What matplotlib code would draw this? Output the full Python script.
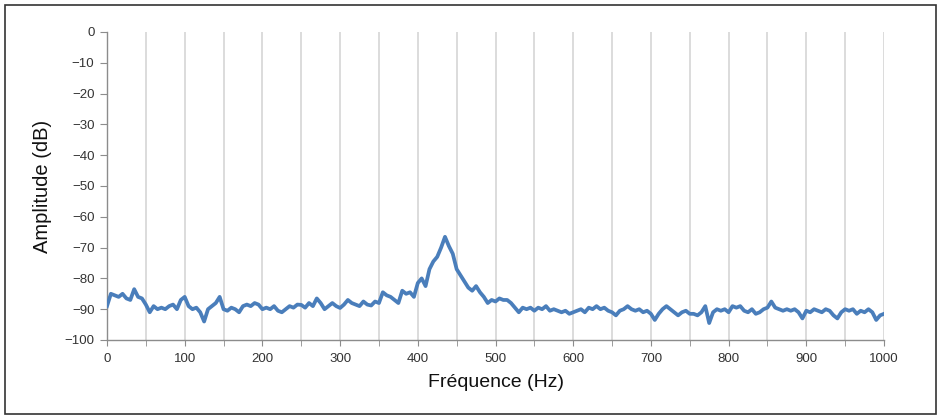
import matplotlib
matplotlib.use("Agg")
import matplotlib.pyplot as plt
import numpy as np
from matplotlib.patches import Rectangle

plt.rcParams['font.family'] = ['Liberation Sans', 'DejaVu Sans']

# spectrum, every 5 Hz
freq_hz = np.arange(0, 1001, 5)
amp_db = [
    -89, -85, -85.5, -86, -85, -86.5, -87, -83.5, -86, -86.5,
    -88.5, -91, -89, -90, -89.5, -90, -89, -88.5, -90, -87,
    -86, -89, -90, -89.5, -91, -94, -90, -89, -88, -86,
    -90, -90.5, -89.5, -90, -91, -89, -88.5, -89, -88, -88.5,
    -90, -89.5, -90, -89, -90.5, -91, -90, -89, -89.5, -88.5,
    -88.6, -89.5, -88, -89, -86.5, -88, -90, -89, -88, -89,
    -89.6, -88.5, -87, -88, -88.5, -89, -87.5, -88.5, -88.8, -87.5,
    -88, -84.5, -85.5, -86, -87, -88, -84, -85, -84.5, -86,
    -81.5, -80, -82.5, -77, -74.5, -73, -70, -66.5, -69.5, -72,
    -77, -79, -81, -83, -84, -82.5, -84.5, -86, -88, -87,
    -87.5, -86.5, -87, -87, -88, -89.5, -91, -89.5, -90, -89.5,
    -90.5, -89.5, -90, -89, -90.5, -90, -90.5, -91, -90.5, -91.5,
    -91, -90.5, -90, -91, -89.5, -90, -89, -90, -89.5, -90.5,
    -91, -92, -90.5, -90, -89, -90, -90.5, -90, -91, -90.5,
    -91.5, -93.5, -91.5, -90, -89, -90, -91, -92, -91, -90.5,
    -91.5, -91.5, -92, -91, -89, -94.5, -91, -90, -90.5, -90,
    -91, -89, -89.5, -89, -90.5, -91, -90, -91.5, -91, -90,
    -89.5, -87.5, -89.5, -90, -90.5, -90, -90.5, -90, -91, -93,
    -90.5, -91, -90, -90.5, -91, -90, -90.5, -92, -93, -91,
    -90, -90.5, -90, -91.5, -90.5, -91, -90, -91, -93.5, -92,
    -91.5,
]

x_ticks = np.arange(0, 1001, 100)
x_grid = np.arange(0, 1001, 50)
y_ticks = np.arange(-100, 1, 10)

W, H = 941, 418
fig = plt.figure(figsize=(W / 100, H / 100), dpi=100)
ax = fig.add_axes([107 / W, 1 - 340 / H, (884 - 107) / W, (340 - 32) / H])

# vertical grid every 50 Hz
for g in x_grid[1:]:
    ax.axvline(g, color='#dcdcdc', lw=1.4, zorder=0)

ax.plot(freq_hz, amp_db, color='#4a7ebb', lw=2.7, zorder=3)

ax.set_xlim(0, 1000)
ax.set_ylim(-100, 0)
ax.set_xticks(x_ticks)
ax.set_xticks(x_grid, minor=True)
ax.set_yticks(y_ticks)

for s in ['top', 'right']:
    ax.spines[s].set_visible(False)
for s in ['left', 'bottom']:
    ax.spines[s].set_color('#8c8c8c')
    ax.spines[s].set_linewidth(1.0)

ax.tick_params(axis='both', which='both', colors='#8c8c8c', labelcolor='#333333',
               labelsize=9.5, direction='out')
ax.tick_params(axis='y', length=5, pad=4)
ax.tick_params(axis='x', which='major', length=4, pad=5)
ax.tick_params(axis='x', which='minor', length=4)

ax.set_xlabel('Fréquence (Hz)', fontsize=14, color='#111111', labelpad=7)
ax.set_ylabel('Amplitude (dB)', fontsize=14.5, color='#111111', labelpad=9)

# outer frame
fig.patches.append(Rectangle((5 / W, 4 / H), (936 - 5) / W, (413 - 4) / H,
                             transform=fig.transFigure, fill=False,
                             edgecolor='#333333', lw=1.2))

fig.savefig('out.png', dpi=100)
